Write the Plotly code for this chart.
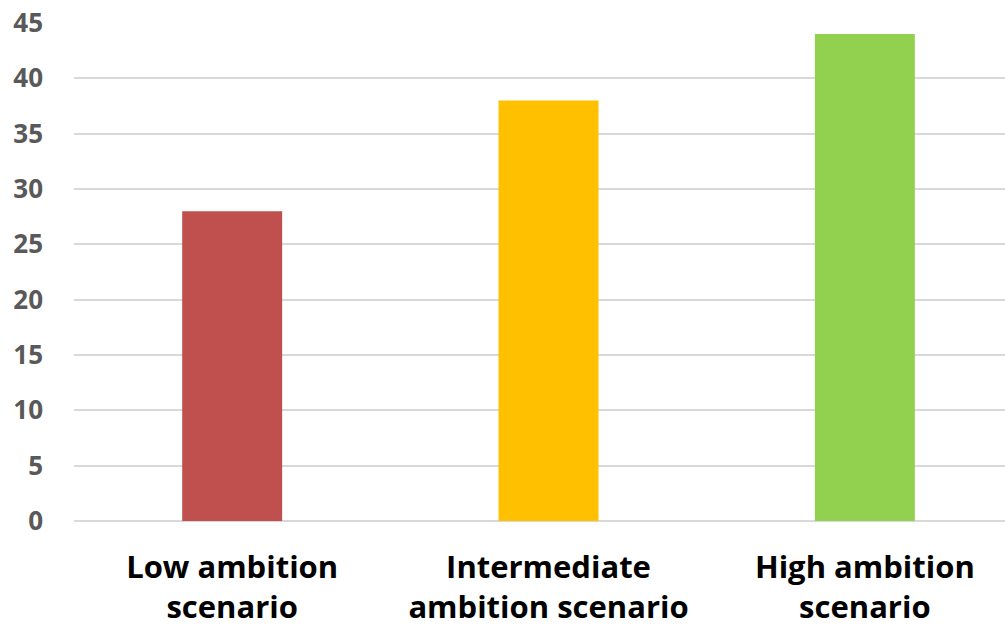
import plotly.graph_objects as go

categories = ["Low ambition<br>scenario", "Intermediate<br>ambition scenario", "High ambition<br>scenario"]
values = [28, 38, 44]
colors = ["#C0504D", "#FFC000", "#92D050"]
y_ticks = [0, 5, 10, 15, 20, 25, 30, 35, 40, 45]

fig = go.Figure(
    go.Bar(
        x=categories,
        y=values,
        marker=dict(color=colors, line=dict(width=0)),
        width=0.316,
    )
)

fig.update_layout(
    width=1005,
    height=627,
    margin=dict(l=74, r=0, t=23, b=106),
    paper_bgcolor="white",
    plot_bgcolor="white",
    showlegend=False,
    font=dict(family="Open Sans", color="#000000"),
)

fig.update_xaxes(
    range=[-0.5, 2.443],
    showgrid=False,
    showline=False,
    zeroline=False,
    tickfont=dict(family="Open Sans", size=31, color="#000000", weight="bold"),
    ticklabelstandoff=25,
)

fig.update_yaxes(
    range=[0, 45],
    tickvals=y_ticks,
    showgrid=True,
    gridcolor="#D9D9D9",
    gridwidth=1.5,
    zeroline=True,
    zerolinecolor="#D9D9D9",
    zerolinewidth=1.5,
    showline=False,
    tickfont=dict(family="Open Sans", size=26, color="#595959", weight="bold"),
    ticklabelstandoff=30,
)

fig.write_html("out.html")
